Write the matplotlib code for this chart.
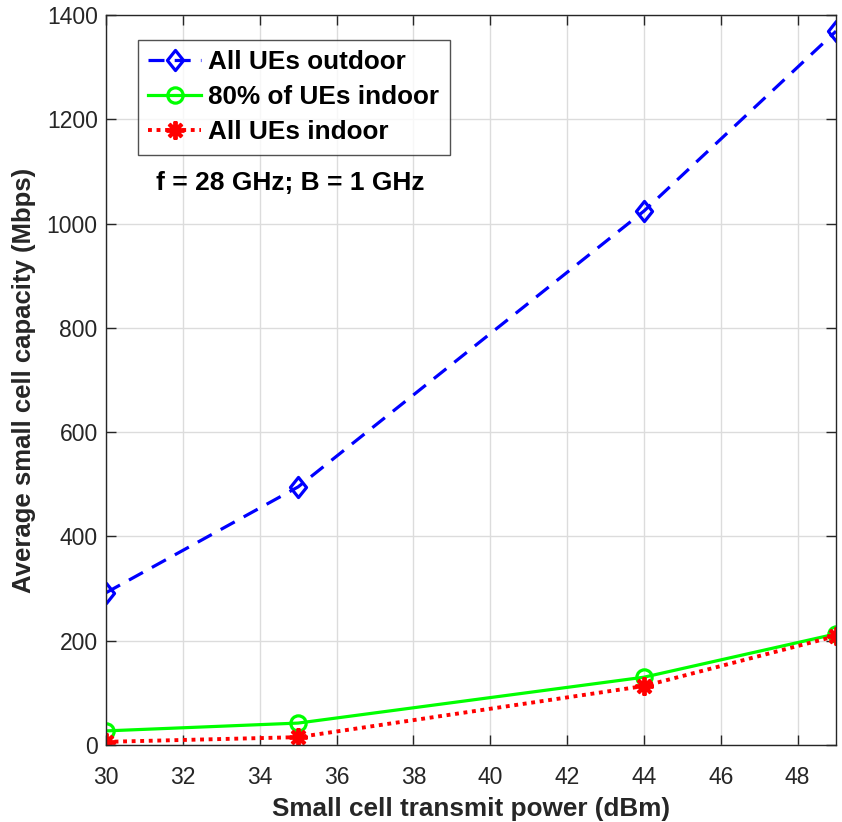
import numpy as np
import matplotlib
matplotlib.use("Agg")
import matplotlib.pyplot as plt
from matplotlib.path import Path

plt.rcParams['font.family'] = ['Liberation Sans', 'DejaVu Sans']

# transmit power (dBm)
power = [30, 35, 44, 49]
# average capacity (Mbps)
cap_outdoor = [292, 495, 1024, 1369]
cap_80_indoor = [27, 42, 130, 213]
cap_all_indoor = [6, 15, 113, 209]

xticks = [30, 32, 34, 36, 38, 40, 42, 44, 46, 48]
yticks = [0, 200, 400, 600, 800, 1000, 1200, 1400]

# slightly narrow diamond, like matlab's 'd'
diamond = Path([(0, 1), (0.8, 0), (0, -1), (-0.8, 0), (0, 1)],
               [Path.MOVETO, Path.LINETO, Path.LINETO, Path.LINETO, Path.CLOSEPOLY])

fig = plt.figure(figsize=(8.42, 8.22), dpi=100)
ax = fig.add_axes([0.1259, 0.0937, 0.867, 0.888])

ax.plot(power, cap_outdoor, color='#0000ff', linestyle=(0, (5, 3.2)), linewidth=2.3,
        marker=diamond, markersize=14.5, markerfacecolor='none', markeredgewidth=2.3,
        label='All UEs outdoor')
ax.plot(power, cap_80_indoor, color='#00ff00', linestyle='-', linewidth=2.3,
        marker='o', markersize=11, markerfacecolor='none', markeredgewidth=2.3,
        label='80% of UEs indoor')
ax.plot(power, cap_all_indoor, color='#ff0000', linestyle=(0, (1, 1.2)), linewidth=2.8,
        marker=(8, 2, 0), markersize=13, markeredgewidth=2.8,
        label='All UEs indoor')

ax.set_xlim(30, 49)
ax.set_ylim(0, 1400)
ax.set_xticks(xticks)
ax.set_yticks(yticks)
ax.grid(True, color='#dcdcdc', linewidth=1.0)
ax.set_axisbelow(True)
ax.tick_params(direction='in', top=True, right=True, length=7, width=1.0,
               labelsize=16.5, labelcolor='#262626', color='#262626')
ax.tick_params(axis='x', pad=15)
ax.tick_params(axis='y', pad=6)
for s in ax.spines.values():
    s.set_color('#262626')
    s.set_linewidth(1.0)

ax.set_xlabel('Small cell transmit power (dBm)', fontsize=18.8, fontweight='bold',
              color='#262626', labelpad=6)
ax.set_ylabel('Average small cell capacity (Mbps)', fontsize=18.5, fontweight='bold',
              color='#262626', labelpad=8)

leg = ax.legend(loc='upper left', bbox_to_anchor=(0.0438, 0.9658),
                prop={'weight': 'bold', 'size': 18.8}, frameon=True, fancybox=False,
                edgecolor='#262626', handlelength=2.0, handletextpad=0.3,
                borderpad=0.4, labelspacing=0.42, borderaxespad=0)
leg.get_frame().set_linewidth(1.0)

ax.text(0.252, 0.770, 'f = 28 GHz; B = 1 GHz', transform=ax.transAxes,
        fontsize=19, fontweight='bold', ha='center', va='center')

fig.savefig('out.png', dpi=100)
